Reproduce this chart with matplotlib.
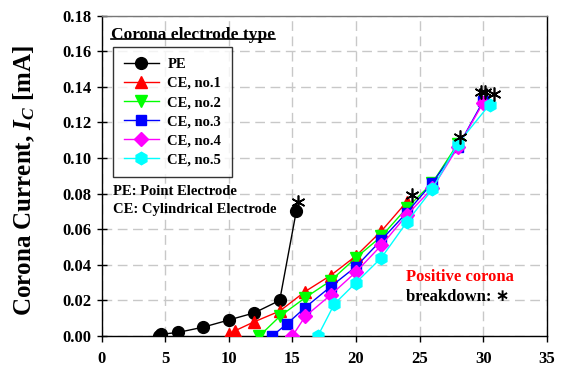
import numpy as np
import matplotlib
matplotlib.use("Agg")
from matplotlib import pyplot as plt
from matplotlib.lines import Line2D

plt.rcParams['font.family'] = ['Liberation Serif', 'DejaVu Sans']
plt.rcParams['font.weight'] = 'bold'
plt.rcParams['axes.labelweight'] = 'bold'
plt.rcParams['mathtext.fontset'] = 'custom'
plt.rcParams['mathtext.it'] = 'Liberation Serif:italic:bold'
plt.rcParams['mathtext.rm'] = 'Liberation Serif:bold'

# corona current vs applied voltage, one series per electrode
pe_x = [4.5, 4.7, 6, 8, 10, 12, 14, 15.3]
pe_y = [0.0, 0.001, 0.002, 0.005, 0.009, 0.013, 0.020, 0.070]
ce1_x = [10, 10.5, 12, 14, 16, 18, 20, 22, 24]
ce1_y = [0.001, 0.003, 0.008, 0.014, 0.025, 0.034, 0.045, 0.059, 0.0755]
ce2_x = [12.4, 14, 16, 18, 20, 22, 24, 26, 28]
ce2_y = [0.0, 0.011, 0.0215, 0.031, 0.044, 0.056, 0.072, 0.086, 0.108]
ce3_x = [13.4, 14.6, 16, 18, 20, 22, 24, 26, 28, 30]
ce3_y = [0.0, 0.007, 0.016, 0.0277, 0.039, 0.054, 0.0694, 0.086, 0.106, 0.132]
ce4_x = [15, 16, 18, 20, 22, 24, 26, 28, 30]
ce4_y = [0.0, 0.011, 0.023, 0.036, 0.051, 0.068, 0.083, 0.106, 0.131]
ce5_x = [17, 18.3, 20, 22, 24, 26, 28, 30.5]
ce5_y = [0.0, 0.018, 0.030, 0.044, 0.064, 0.0825, 0.108, 0.130]

# breakdown points (asterisks)
bd_x = [15.4, 24.4, 28.2, 29.85, 30.15, 30.85]
bd_y = [0.0755, 0.079, 0.112, 0.137, 0.1372, 0.136]

series = [
    (pe_x, pe_y, 'PE', 'black', 'o', 8.5),
    (ce1_x, ce1_y, 'CE, no.1', 'red', '^', 9),
    (ce2_x, ce2_y, 'CE, no.2', '#00ff00', 'v', 9),
    (ce3_x, ce3_y, 'CE, no.3', 'blue', 's', 7.5),
    (ce4_x, ce4_y, 'CE, no.4', 'magenta', 'D', 7),
    (ce5_x, ce5_y, 'CE, no.5', 'cyan', 'h', 9),
]

fig = plt.figure(figsize=(5.63, 3.69), dpi=100)
ax = fig.add_axes([0.1806, 0.0894, 0.7905, 0.868])

for x, y, lab, col, mk, ms in series:
    ax.plot(x, y, color=col, lw=1, marker=mk, ms=ms, mec=col, mfc=col,
            label=lab, zorder=3)

ax.plot(bd_x, bd_y, ls='none', marker=(6, 2, 0), ms=10, mew=1.2,
        color='black', zorder=4)

ax.set_xlim(0, 35)
ax.set_ylim(0, 0.18)
ax.set_xticks(np.arange(0, 36, 5))
ax.set_yticks(np.arange(0, 0.181, 0.02))
ax.set_yticklabels(['%.2f' % v for v in np.arange(0, 0.181, 0.02)])
ax.tick_params(axis='both', labelsize=12, width=1)
ax.tick_params(axis='x', direction='out', length=4, pad=7)
ax.tick_params(axis='y', direction='inout', length=7, pad=4)
ax.grid(True, color='#c8c8c8', ls=(0, (7, 4)), lw=1)
ax.set_axisbelow(True)
for s in ax.spines.values():
    s.set_linewidth(1)
ax.spines['top'].set_color('#777777')

ax.set_ylabel(r'Corona Current, $I_C$ [mA]', fontsize=18)
ax.yaxis.set_label_coords(-0.145, 0.485)

leg = ax.legend(loc='upper left', bbox_to_anchor=(0.025, 0.903),
                borderaxespad=0, fontsize=10.5, frameon=True, fancybox=False,
                edgecolor='black', handlelength=2.4, labelspacing=0.4,
                borderpad=0.75, handletextpad=0.6)
leg.get_frame().set_linewidth(1)

title = ax.text(0.73, 0.169, 'Corona electrode type', fontsize=12.5,
                ha='left', va='center')
ax.text(0.9, 0.081, 'PE: Point Electrode', fontsize=10.5, ha='left', va='center')
ax.text(0.9, 0.0709, 'CE: Cylindrical Electrode', fontsize=10.5,
        ha='left', va='center')
ax.text(23.9, 0.0332, 'Positive corona', color='red', fontsize=12,
        ha='left', va='center')
ax.text(23.9, 0.0219, 'breakdown: \u2217', fontsize=12, ha='left', va='center')

# underline the legend heading
fig.canvas.draw()
bb = title.get_window_extent().transformed(ax.transAxes.inverted())
ax.add_line(Line2D([bb.x0, bb.x1], [bb.y0 + 0.012, bb.y0 + 0.012],
                   transform=ax.transAxes, color='black', lw=1.2))

fig.savefig('out.png', dpi=100)
